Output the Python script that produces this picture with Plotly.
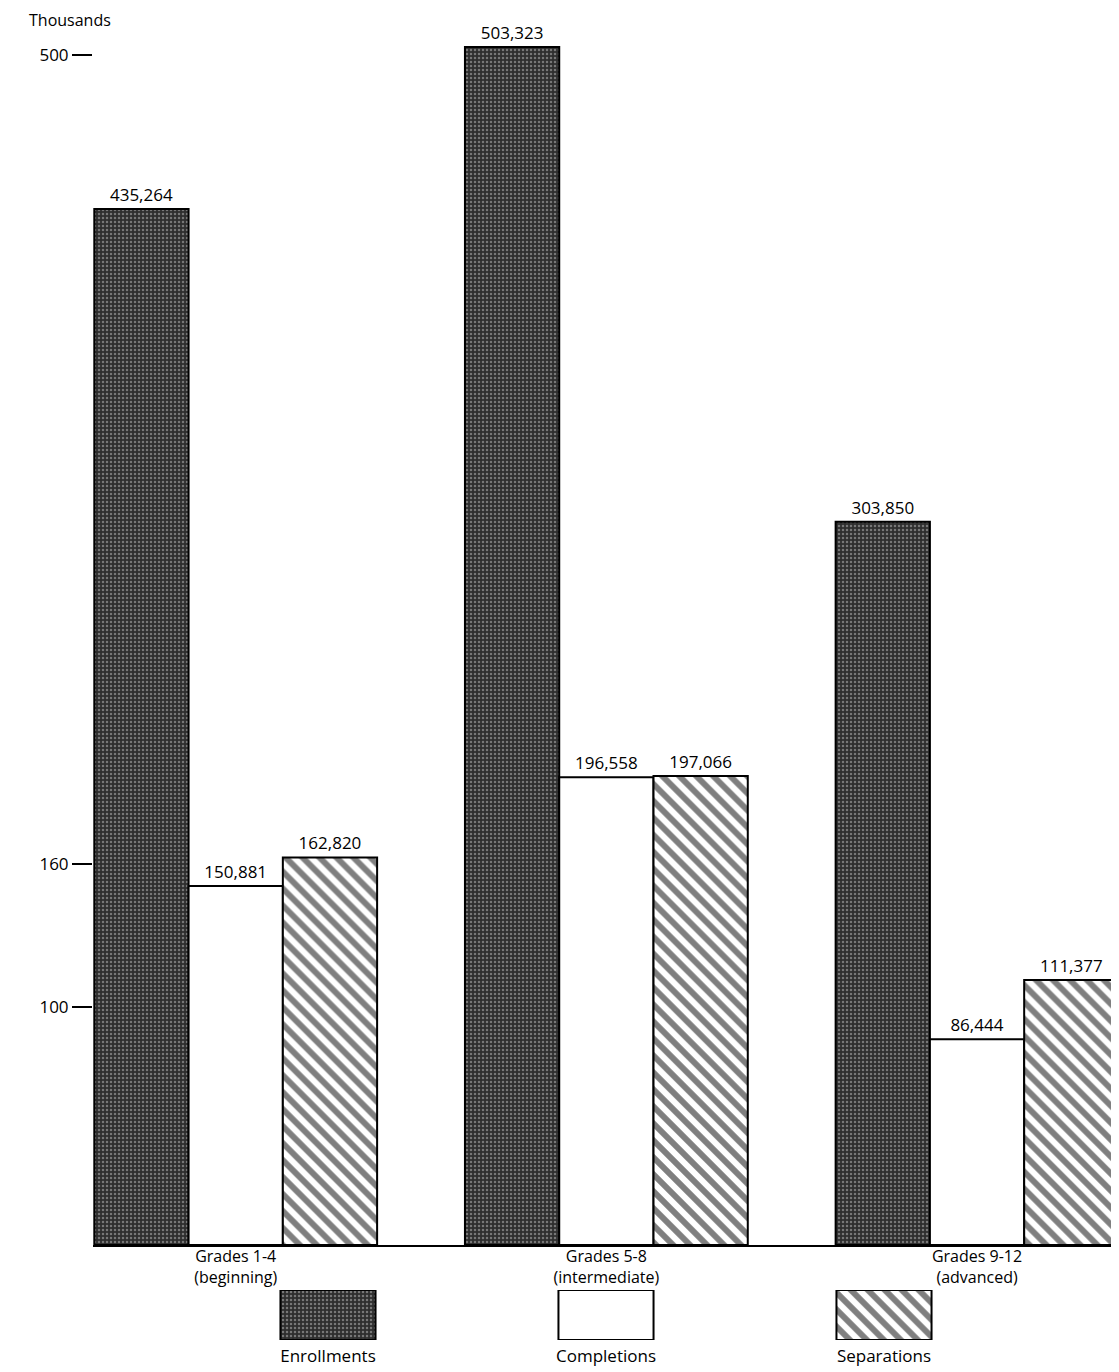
import plotly.graph_objects as go

categories = ["Grades 1-4<br>(beginning)", "Grades 5-8<br>(intermediate)", "Grades 9-12<br>(advanced)"]
series_names = ["Enrollments", "Completions", "Separations"]
enrollments = [435264, 503323, 303850]
completions = [150881, 196558, 86444]
separations = [162820, 197066, 111377]
tick_values = [100000, 160000, 500000]
tick_labels = ["100", "160", "500"]

FONT = "Open Sans"
BODY = 8  # default page body margin
W = 1119 - BODY
H = 1372 - BODY
ML, MR, MT, MB = 93 - BODY, 0, 20 - BODY, 0
plot_w = W - ML - MR
paper_h = H - MT - MB
base_px = 1245
px_per_unit = 2.38 / 1000.0
ymax = (base_px - 20) / px_per_unit

def fy(py):
    return (H - MB - (py - BODY)) / paper_h

def fx(px):
    return (px - BODY - ML) / plot_w

styles = [
    dict(color="#333333", pattern=dict(shape=".", fgcolor="#c0c0c0", bgcolor="#2e2e2e", size=4, solidity=0.3)),
    dict(color="white"),
    dict(color="white", pattern=dict(shape="\\", fgcolor="black", bgcolor="white", size=12, solidity=0.5)),
]
values = [enrollments, completions, separations]

bw = 0.763 / 3
offsets = [-0.3815, -0.3815 + bw, -0.3815 + 2 * bw]

fig = go.Figure()
for name, vals, st, off in zip(series_names, values, styles, offsets):
    fig.add_trace(go.Bar(
        x=categories, y=vals, name=name,
        width=bw, offset=off,
        marker=dict(line=dict(color="black", width=2), **st),
        text=[f"{v:,}" for v in vals], textposition="outside",
        textfont=dict(family=FONT, size=17, color="black"),
        cliponaxis=False,
        xaxis="x", yaxis="y", showlegend=False,
    ))

# legend swatches on their own small axis
for name, st in zip(series_names, styles):
    fig.add_trace(go.Bar(
        x=[name], y=[1], width=0.342, offset=-0.171,
        marker=dict(line=dict(color="black", width=2), **st),
        xaxis="x2", yaxis="y2", showlegend=False, hoverinfo="skip",
    ))

fig.update_layout(
    width=W, height=H,
    margin=dict(l=ML, r=MR, t=MT, b=MB),
    paper_bgcolor="white", plot_bgcolor="white",
    font=dict(family=FONT, size=17, color="black"),
    barmode="group",
    showlegend=False,
    xaxis=dict(
        type="category", categoryarray=categories, range=[-0.385, 2.383],
        domain=[0, 1], anchor="y",
        showline=True, linecolor="black", linewidth=2,
        ticks="", showgrid=False, zeroline=False,
        tickfont=dict(family=FONT, size=16, color="black"),
        ticklabelstandoff=-4,
        automargin=False,
    ),
    yaxis=dict(
        range=[0, ymax], domain=[fy(base_px), 1], anchor="x",
        showline=False, showgrid=False, zeroline=False,
        tickvals=tick_values, ticktext=tick_labels,
        ticks="outside", ticklen=20, tickwidth=2, tickcolor="black",
        tickfont=dict(family=FONT, size=17, color="black"),
        automargin=False,
    ),
    xaxis2=dict(
        type="category", categoryarray=series_names, range=[-0.5, 2.5],
        domain=[fx(189), fx(1023)],
        anchor="y2", showline=False, showgrid=False, zeroline=False, ticks="",
        tickfont=dict(family=FONT, size=17, color="black"),
        ticklabelstandoff=4,
        automargin=False,
    ),
    yaxis2=dict(
        range=[0, 1], domain=[fy(1340), fy(1290)], anchor="x2",
        visible=False,
    ),
    annotations=[
        dict(text="Thousands", xref="paper", yref="paper",
             x=fx(27), y=fy(20), xanchor="left", yanchor="middle",
             showarrow=False, font=dict(family=FONT, size=16, color="black")),
    ],
)

fig.write_html("out.html")
